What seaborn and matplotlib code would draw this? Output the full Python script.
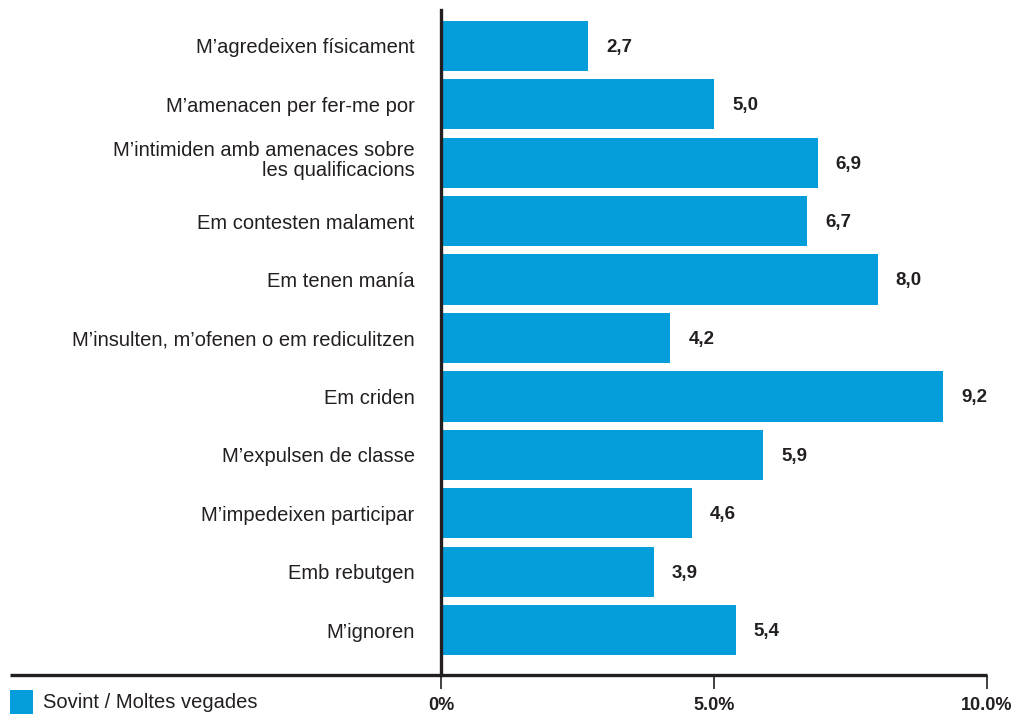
import matplotlib
matplotlib.use("Agg")
import matplotlib.pyplot as plt
import matplotlib.transforms as mtransforms
import seaborn as sns
import pandas as pd
from matplotlib.lines import Line2D
from matplotlib.patches import Rectangle

categories = [
    "M’agredeixen físicament",
    "M’amenacen per fer-me por",
    "M’intimiden amb amenaces sobre\nles qualificacions",
    "Em contesten malament",
    "Em tenen manía",
    "M’insulten, m’ofenen o em rediculitzen",
    "Em criden",
    "M’expulsen de classe",
    "M’impedeixen participar",
    "Emb rebutgen",
    "M’ignoren",
]
values = [2.7, 5.0, 6.9, 6.7, 8.0, 4.2, 9.2, 5.9, 4.6, 3.9, 5.4]
value_labels = ["2,7", "5,0", "6,9", "6,7", "8,0", "4,2", "9,2", "5,9", "4,6", "3,9", "5,4"]
xticks = [0, 5, 10]
xtick_labels = ["0%", "5.0%", "10.0%"]
legend_label = "Sovint / Moltes vegades"

color = "#069ddb"
dark = "#231f20"

sns.set_theme(style="white")
plt.rcParams["font.family"] = ["Liberation Sans", "DejaVu Sans"]

df = pd.DataFrame({"cat": categories, "val": values})

fig = plt.figure(figsize=(10.17, 7.14), dpi=100)
ax = fig.add_axes([441 / 1017, 1 - 675 / 714, (987 - 441) / 1017, (675 - 10) / 714])

sns.barplot(data=df, y="cat", x="val", orient="h", color=color, width=0.86,
            saturation=1, ax=ax, edgecolor="none")

ax.set_xlim(0, 10)
ax.set_ylim(10.77, -0.616)
ax.set_xlabel("")
ax.set_ylabel("")

for s in ["top", "right", "bottom"]:
    ax.spines[s].set_visible(False)
ax.spines["left"].set_color(dark)
ax.spines["left"].set_linewidth(2.4)

ax.tick_params(axis="y", length=0, pad=19, labelsize=14.5, labelcolor=dark)
ax.set_xticks(xticks)
ax.set_xticklabels(xtick_labels, fontweight="bold", fontsize=13, color=dark)
ax.tick_params(axis="x", direction="out", length=10, width=1.2, color=dark,
               pad=6, bottom=True)

fig.canvas.draw()
for t in ax.get_yticklabels():
    if "\n" in t.get_text():
        t.set_linespacing(1.05)
        t.set_transform(t.get_transform() +
                        mtransforms.ScaledTranslation(0, 5 / 100, fig.dpi_scale_trans))

# extended baseline from the left of the figure
line = Line2D([10 / 1017, 987 / 1017], [1 - 675 / 714] * 2, transform=fig.transFigure,
              color=dark, linewidth=2.4, solid_capstyle="butt")
fig.add_artist(line)

for i, (v, lab) in enumerate(zip(values, value_labels)):
    ax.annotate(lab, xy=(v, i), xytext=(13, -1), textcoords="offset points",
                va="center", ha="left", fontsize=13.5, fontweight="bold", color=dark)

# legend
fig.add_artist(Rectangle((10 / 1017, 0), 23 / 1017, 24 / 714,
                         transform=fig.transFigure, facecolor=color, edgecolor="none"))
fig.text(43 / 1017, 1 - 703 / 714, legend_label, fontsize=14.5, color=dark,
         va="center", ha="left")

fig.savefig("out.png", dpi=100)
